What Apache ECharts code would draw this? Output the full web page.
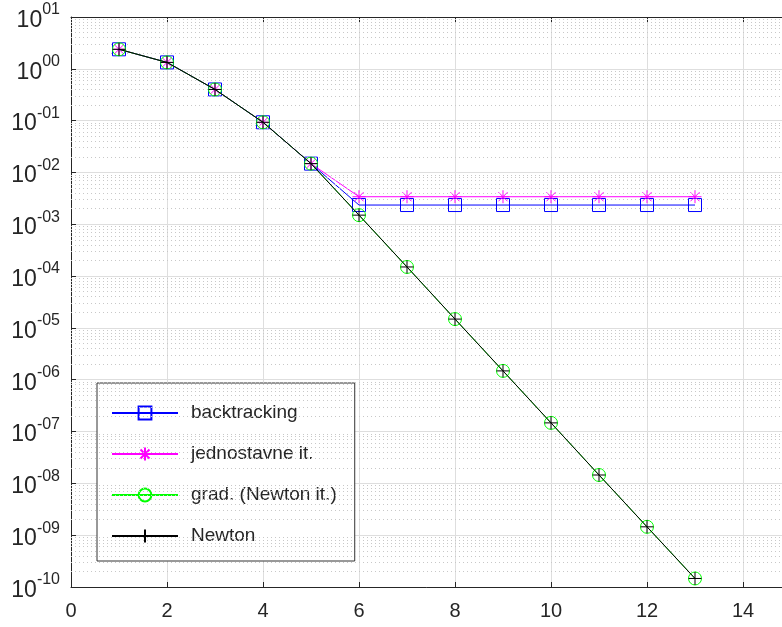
<!DOCTYPE html>
<html>
<head>
<meta charset="utf-8">
<script src="https://cdn.jsdelivr.net/npm/echarts@6/dist/echarts.min.js"></script>
<style>html,body{margin:0;padding:0;background:#fff}#c{width:782px;height:627px}</style>
</head>
<body>
<div id="c"></div>
<script>
// ---- data ----
const iterations = [1, 2, 3, 4, 5, 6, 7, 8, 9, 10, 11, 12, 13];
const backtracking = [2.38, 1.33, 0.40, 0.093, 0.0148, 0.00235, 0.00235, 0.00235, 0.00235, 0.00235, 0.00235, 0.00235, 0.00235];
const jednostavne = [2.38, 1.33, 0.40, 0.093, 0.0148, 0.0034, 0.0034, 0.0034, 0.0034, 0.0034, 0.0034, 0.0034, 0.0034];
const gradNewton = [2.38, 1.33, 0.40, 0.093, 0.0148, 0.0015, 1.5e-4, 1.48e-5, 1.48e-6, 1.47e-7, 1.45e-8, 1.45e-9, 1.46e-10];
const newton = [2.38, 1.33, 0.40, 0.093, 0.0148, 0.0015, 1.5e-4, 1.48e-5, 1.48e-6, 1.47e-7, 1.45e-8, 1.45e-9, 1.46e-10];
const seriesNames = ['backtracking', 'jednostavne it.', 'grad. (Newton it.)', 'Newton'];
const decadeExponents = [-10, -9, -8, -7, -6, -5, -4, -3, -2, -1, 0];
const minorMultipliers = [2, 3, 4, 5, 6, 7, 8, 9];

const FONT = 'Liberation Sans';
const TXT = '#262626';

function pairs(ys) { return iterations.map((x, i) => [x, ys[i]]); }

const minorLines = [];
decadeExponents.forEach(e => minorMultipliers.forEach(m => minorLines.push({ yAxis: m * Math.pow(10, e) })));

function expLabel(v) {
  const e = Math.round(Math.log10(v));
  const s = (e < 0 ? '-' : '') + String(Math.abs(e)).padStart(2, '0');
  return '{h| }{b|10}{s|' + s + '}';
}

const asterisk = 'path://M0,-1L0,1M-1,0L1,0M-0.7,-0.7L0.7,0.7M-0.7,0.7L0.7,-0.7';
const plus = 'path://M0,-1L0,1M-1,0L1,0';

const chart = echarts.init(document.getElementById('c'), null, { renderer: 'canvas' });
chart.setOption({
  backgroundColor: '#ffffff',
  animation: false,
  grid: { left: 71, top: 17, right: -9, bottom: 40, containLabel: false, outerBoundsMode: 'none', show: false },
  legend: {
    data: seriesNames,
    orient: 'vertical',
    left: 97, top: 383,
    padding: [20, 18, 15, 14],
    itemWidth: 66, itemHeight: 16, itemGap: 21,
    backgroundColor: '#ffffff',
    borderColor: '#333333', borderWidth: 1, borderRadius: 0,
    textStyle: { fontFamily: FONT, fontSize: 19, color: TXT, lineHeight: 20, padding: [0, 0, 0, 8] },
    selectedMode: false
  },
  xAxis: [{
    type: 'value', min: 0, max: 15, interval: 2, position: 'bottom',
    axisLine: { show: true, onZero: false, lineStyle: { color: '#262626', width: 1 } },
    axisTick: { show: true, inside: true, length: 5, lineStyle: { color: '#262626' } },
    axisLabel: { show: true, showMaxLabel: false, margin: 14, fontFamily: FONT, fontSize: 20, color: TXT },
    splitLine: { show: true, lineStyle: { color: '#dedede', width: 1 } }
  }, {
    type: 'value', min: 0, max: 15, interval: 2, position: 'top',
    axisLine: { show: true, onZero: false, lineStyle: { color: '#262626', width: 1 } },
    axisTick: { show: true, inside: true, length: 5, lineStyle: { color: '#262626' } },
    axisLabel: { show: false },
    splitLine: { show: false }
  }],
  yAxis: [{
    type: 'log', logBase: 10, min: 1e-10, max: 10, interval: 1,
    axisLine: { show: true, onZero: false, lineStyle: { color: '#262626', width: 1 } },
    axisTick: { show: true, inside: true, length: 5, lineStyle: { color: '#262626' } },
    axisLabel: {
      show: true, margin: 11, formatter: expLabel,
      rich: {
        h: { fontSize: 1, lineHeight: 30 },
        b: { fontFamily: FONT, fontSize: 23, color: TXT, lineHeight: 20, verticalAlign: 'bottom' },
        s: { fontFamily: FONT, fontSize: 16, color: TXT, lineHeight: 26, verticalAlign: 'top' }
      }
    },
    splitLine: { show: true, lineStyle: { color: '#dedede', width: 1 } }
  }],
  series: [
    {
      name: '_minor', type: 'line', data: [], silent: true, z: 1,
      markLine: {
        silent: true, symbol: ['none', 'none'], label: { show: false }, precision: 14,
        lineStyle: { color: '#c8c8c8', width: 1, type: [1, 3] },
        emphasis: { disabled: true },
        data: minorLines, animation: false
      }
    },
    {
      name: seriesNames[0], type: 'line', data: pairs(backtracking), z: 3,
      symbol: 'rect', symbolSize: 13,
      lineStyle: { color: '#0000ff', width: 1 },
      itemStyle: { color: 'rgba(0,0,0,0)', borderColor: '#0000ff', borderWidth: 1 }
    },
    {
      name: seriesNames[1], type: 'line', data: pairs(jednostavne), z: 4,
      symbol: asterisk, symbolSize: 13,
      lineStyle: { color: '#ff00ff', width: 1 },
      itemStyle: { color: 'rgba(0,0,0,0)', borderColor: '#ff00ff', borderWidth: 1 }
    },
    {
      name: seriesNames[2], type: 'line', data: pairs(gradNewton), z: 5,
      symbol: 'circle', symbolSize: 13,
      lineStyle: { color: '#00ff00', width: 1 },
      itemStyle: { color: 'rgba(0,0,0,0)', borderColor: '#00ff00', borderWidth: 1 }
    },
    {
      name: seriesNames[3], type: 'line', data: pairs(newton), z: 6,
      symbol: plus, symbolSize: 13,
      lineStyle: { color: '#000000', width: 1 },
      itemStyle: { color: 'rgba(0,0,0,0)', borderColor: '#000000', borderWidth: 1 }
    }
  ]
});
</script>
</body>
</html>
